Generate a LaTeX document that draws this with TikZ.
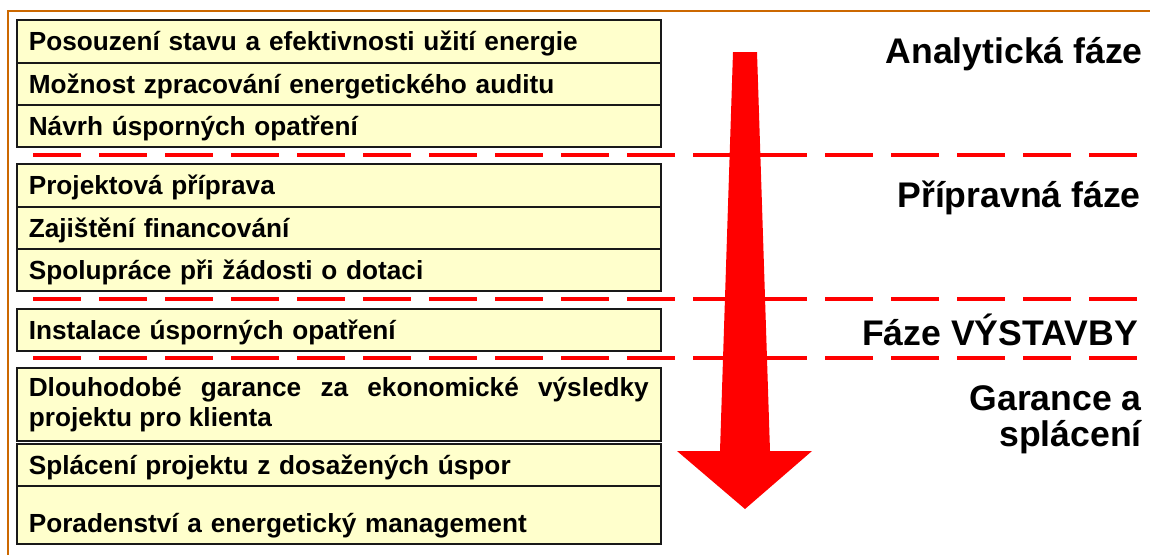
\documentclass[tikz,border=0pt]{standalone}
\usepackage{fontspec}
\setmainfont{Liberation Sans}
\usepackage{xcolor}
\definecolor{framebrown}{RGB}{204,104,0}
\definecolor{boxyellow}{RGB}{255,255,204}

\begin{document}
\begin{tikzpicture}[x=1pt,y=-1pt,
  step box/.style={draw=black!90, line width=1.6pt, fill=boxyellow, anchor=north west,
    minimum width=644pt, inner xsep=12pt, text width=620pt, align=left,
    font=\bfseries\fontsize{26.2}{30}\selectfont},
  phase name/.style={font=\bfseries\fontsize{35.6}{36}\selectfont, align=right, inner sep=0pt},
  phase line/.style={red, line width=4pt, dash pattern=on 48pt off 18pt}]
\useasboundingbox (0,0) rectangle (1150,554);
\draw[framebrown, line width=2.8pt] (8,560) |- (1152,11);
% separators between the phases
\foreach \y in {155,299,358}
  \draw[phase line] (33,\y) -- (1137,\y);
% steps
\foreach \top/\bot/\name/\txt in {19/62/posouzeni/Posouzení stavu a efektivnosti užití energie,
  62/104/audit/Možnost zpracování energetického auditu,
  104/146/navrh/Návrh úsporných opatření,
  163/206/priprava/Projektová příprava,
  206/248/financovani/Zajištění financování,
  248/290/dotace/Spolupráce při žádosti o dotaci,
  308/350/instalace/Instalace úsporných opatření,
  443/485/splaceni/Splácení projektu z dosažených úspor}
  \node[step box, minimum height={\bot pt-\top pt}, text height=25pt, text depth=6pt] (\name) at (16,\top) {\txt};
\node[step box, minimum height=73pt, align=justify] (garance) at (16,367)
  {Dlouhodobé garance za ekonomické výsledky\linebreak projektu pro klienta};
\node[step box, minimum height=58pt, text height=36pt, text depth=0pt] (poradenstvi) at (16,485)
  {Poradenství a energetický management};
% big arrow
\fill[red] (733,52) -- (757,52) -- (770,451) -- (812,451) -- (745,509) -- (677,451) -- (720,451) -- cycle;
% phases
\node[phase name, anchor=base east] (analyticka) at (1143,63) {Analytická fáze};
\node[phase name, anchor=base east] (pripravna) at (1141,207) {Přípravná fáze};
\node[phase name, anchor=base east] (vystavba) at (1138,345) {Fáze VÝSTAVBY};
\node[phase name, anchor=base east] (splatky) at (1142,446) {Garance a\\splácení};
\end{tikzpicture}
\end{document}
